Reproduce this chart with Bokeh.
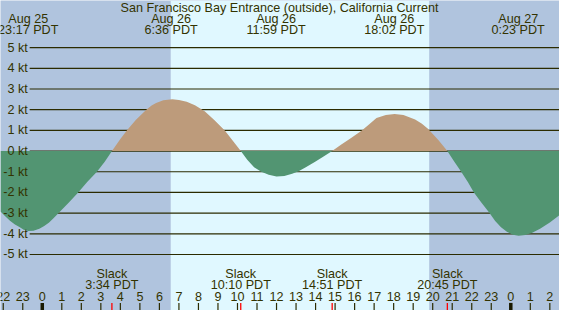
from bokeh.plotting import figure
from bokeh.models import BoxAnnotation
from bokeh.core.properties import value
from bokeh.embed import file_html
from bokeh.resources import INLINE

# ---- data (hours relative to Aug 26 00:00 PDT, knots) ----
curve_t = [-2.14, -1.9, -1.64, -1.4, -1.15, -0.95, -0.72, -0.45, -0.15, 0.1, 0.35, 0.6, 0.85,
           1.35, 1.84, 2.3, 2.8, 3.2, 3.57,
           4.0, 4.33, 4.8, 5.33, 5.6, 5.83, 6.2, 6.66, 7.0, 7.4, 7.82, 8.32, 8.81, 9.35, 9.8, 10.17,
           10.5, 10.85, 11.22, 11.6, 12.0, 12.4, 12.8, 13.13, 13.5, 14.0, 14.45, 14.85,
           15.3, 15.8, 16.37, 16.75, 17.12, 17.6, 18.05, 18.5, 19.1, 19.45, 19.77, 20.3, 20.75,
           21.1, 21.46, 21.8, 22.11, 22.5, 22.91, 23.2, 23.5, 23.8, 24.1, 24.4, 24.75, 25.1,
           25.5, 26.0, 26.49]
curve_kt = [-2.92, -3.15, -3.38, -3.55, -3.68, -3.8, -3.87, -3.85, -3.76, -3.62, -3.45, -3.22, -2.98,
            -2.5, -2.0, -1.5, -1.0, -0.52, 0.0,
            0.58, 1.0, 1.52, 2.0, 2.2, 2.33, 2.46, 2.5, 2.47, 2.38, 2.22, 1.93, 1.5, 1.0, 0.45, 0.0,
            -0.42, -0.78, -1.0, -1.15, -1.23, -1.2, -1.1, -0.98, -0.78, -0.5, -0.24, 0.0,
            0.3, 0.62, 1.0, 1.3, 1.6, 1.74, 1.79, 1.74, 1.53, 1.32, 1.07, 0.52, 0.0,
            -0.5, -1.0, -1.5, -2.0, -2.5, -3.0, -3.38, -3.68, -3.9, -4.04, -4.1, -4.06, -3.95,
            -3.75, -3.45, -3.1]

sun_rise = 6.58
sun_set = 19.82

event_t = [-0.72, 6.6, 11.98, 18.03, 24.38]
event_day = ["Aug 25", "Aug 26", "Aug 26", "Aug 26", "Aug 27"]
event_time = ["23:17 PDT", "6:36 PDT", "11:59 PDT", "18:02 PDT", "0:23 PDT"]

slack_t = [3.567, 10.167, 14.85, 20.75]
slack_time = ["3:34 PDT", "10:10 PDT", "14:51 PDT", "20:45 PDT"]

grid_kt = [-5, -4, -3, -2, -1, 0, 1, 2, 3, 4, 5]
grid_labels = ["%d kt" % k for k in grid_kt]

hour_ticks = list(range(-2, 27))
hour_labels = [str(h % 24) for h in hour_ticks]
midnights = [0, 24]

title = "San Francisco Bay Entrance (outside), California Current"

# ---- layout helpers (reference pixel -> data) ----
X0, PXH = -2.14, 20.08      # left edge time, px per hour
Y0, PXK = 7.28, 21.75       # top edge knots, px per knot
X1 = X0 + 575 / PXH
Y1 = Y0 - 326 / PXK

def px_x(x):
    return X0 + x / PXH

def px_y(y):
    return Y0 - y / PXK

NIGHT = "#b0c4de"
DAY = "#e0f8ff"
FLOOD = "#bd9b7b"
EBB = "#529572"
INK = "#333300"
LINE = "#2b2b00"
FONT = value("Liberation Sans")
FS = value("12.6px")

p = figure(width=559, height=310, x_range=(X0, X1), y_range=(Y1, Y0),
           output_backend="svg", toolbar_location=None, min_border=0,
           background_fill_color=NIGHT, border_fill_color=NIGHT)
p.axis.visible = False
p.grid.visible = False
p.outline_line_color = None

p.add_layout(BoxAnnotation(left=sun_rise, right=sun_set, fill_color=DAY, fill_alpha=1.0,
                           line_color=None, level="underlay"))

# grid lines
p.segment(x0=[px_x(30)] * len(grid_kt), x1=[X1] * len(grid_kt), y0=grid_kt, y1=grid_kt,
          line_color=LINE, line_width=1.2)

# fills
pos = [max(v, 0.0) for v in curve_kt]
neg = [min(v, 0.0) for v in curve_kt]
zeros = [0.0] * len(curve_kt)
p.varea(x=curve_t, y1=zeros, y2=pos, fill_color=FLOOD)
p.varea(x=curve_t, y1=neg, y2=zeros, fill_color=EBB)

# y labels
p.text(x=[px_x(28)] * len(grid_kt), y=grid_kt, text=grid_labels, text_align="right",
       text_baseline="middle", text_font=FONT, text_font_size=FS, text_color=INK)

# title
p.text(x=[px_x(287)], y=[px_y(7.5)], text=[title], text_align="center", text_baseline="middle",
       text_font=FONT, text_font_size=FS, text_color=INK)

# event labels
p.text(x=event_t, y=[px_y(19.5)] * len(event_t), text=event_day, text_align="center",
       text_baseline="middle", text_font=FONT, text_font_size=FS, text_color=INK)
p.text(x=event_t, y=[px_y(31.5)] * len(event_t), text=event_time, text_align="center",
       text_baseline="middle", text_font=FONT, text_font_size=FS, text_color=INK)

# slack labels
p.text(x=slack_t, y=[px_y(287.5)] * len(slack_t), text=["Slack"] * len(slack_t), text_align="center",
       text_baseline="middle", text_font=FONT, text_font_size=FS, text_color=INK)
p.text(x=slack_t, y=[px_y(299.5)] * len(slack_t), text=slack_time, text_align="center",
       text_baseline="middle", text_font=FONT, text_font_size=FS, text_color=INK)

# hour labels and ticks
p.text(x=hour_ticks, y=[px_y(311.5)] * len(hour_ticks), text=hour_labels, text_align="center",
       text_baseline="middle", text_font=FONT, text_font_size=FS, text_color=INK)
p.segment(x0=hour_ticks, x1=hour_ticks, y0=[px_y(318)] * len(hour_ticks), y1=[Y1] * len(hour_ticks),
          line_color=LINE, line_width=1.2)
p.segment(x0=midnights, x1=midnights, y0=[px_y(318)] * 2, y1=[Y1] * 2,
          line_color="#1a1a00", line_width=3.5)
p.segment(x0=slack_t, x1=slack_t, y0=[px_y(318)] * len(slack_t), y1=[Y1] * len(slack_t),
          line_color="#ff0000", line_width=1.3)

open("out.html", "w").write(file_html(p, INLINE))
